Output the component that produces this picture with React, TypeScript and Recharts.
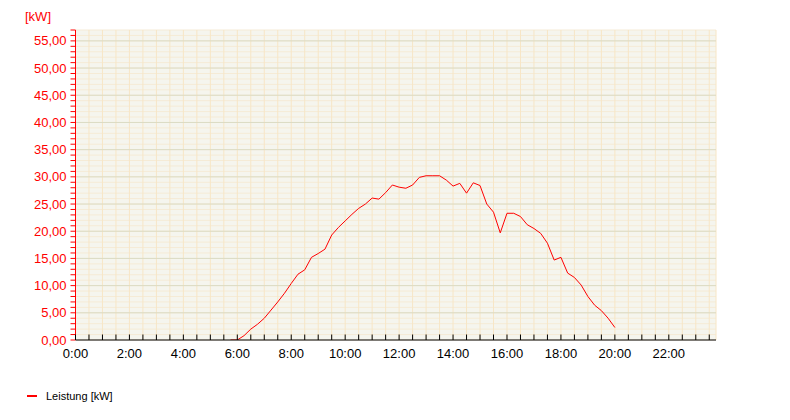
import React from 'react';
import {
    LineChart,
    Line,
    XAxis,
    YAxis,
    CartesianGrid,
    ReferenceLine
} from 'recharts';

// Messzeitpunkte (Viertelstunden) und Leistung in kW
const zeitpunkte = [
    '5:45', '6:00', '6:15', '6:30', '6:45', '7:00', '7:15', '7:30', '7:45',
    '8:00', '8:15', '8:30', '8:45', '9:00', '9:15', '9:30', '9:45',
    '10:00', '10:15', '10:30', '10:45', '11:00', '11:15', '11:30', '11:45',
    '12:00', '12:15', '12:30', '12:45', '13:00', '13:15', '13:30', '13:45',
    '14:00', '14:15', '14:30', '14:45', '15:00', '15:15', '15:30', '15:45',
    '16:00', '16:15', '16:30', '16:45', '17:00', '17:15', '17:30', '17:45',
    '18:00', '18:15', '18:30', '18:45', '19:00', '19:15', '19:30', '19:45',
    '20:00'
];

const leistung = [
    0, 0, 0.8, 2.0, 2.9, 4.0, 5.5, 7.0, 8.6,
    10.4, 12.1, 12.9, 15.2, 15.9, 16.7, 19.3, 20.7,
    21.9, 23.1, 24.2, 25.0, 26.1, 25.9, 27.1, 28.5,
    28.1, 27.9, 28.5, 29.9, 30.2, 30.2, 30.2, 29.4,
    28.3, 28.8, 27.0, 28.9, 28.4, 25.0, 23.5, 19.7,
    23.3, 23.3, 22.7, 21.2, 20.5, 19.6, 17.8, 14.7,
    15.2, 12.3, 11.5, 10.1, 8.0, 6.4, 5.4, 4.0,
    2.3
];

// Achsen: Minuten seit Mitternacht (Ticks alle 30 min), kW (Ticks je 1 kW)
const xTicks = Array.from({ length: 48 }, (_, i) => i * 30);
const yTicks = Array.from({ length: 58 }, (_, i) => i);
const yMajor = [5, 10, 15, 20, 25, 30, 35, 40, 45, 50, 55];

const toMin = (t: string) => {
    const [h, m] = t.split(':').map(Number);
    return h * 60 + m;
};

const data = zeitpunkte.map((t, i) => ({ min: toMin(t), kw: leistung[i] }));

const FONT = '"Liberation Sans", Arial, Helvetica, sans-serif';

const fmtKw = (v: number) => (v % 5 === 0 ? v.toFixed(2).replace('.', ',') : '');

function XTick({ x, y, payload }: any) {
    const v = payload.value;
    return (
        <g>
            <line x1={x} x2={x} y1={y - 5.5} y2={y} stroke="#000" />
            {v % 120 === 0 && (
                <text x={x} y={y + 17.5} textAnchor="middle" fill="#000" fontSize={13} fontFamily={FONT}>
                    {`${v / 60}:00`}
                </text>
            )}
        </g>
    );
}

export default function App() {
    return (
        <div style={{ position: 'relative', width: 790, height: 420, margin: -8, background: '#fff', fontFamily: FONT }}>
            <div style={{ position: 'absolute', left: 25, top: 10, color: '#ff0000', fontSize: 13, lineHeight: 1 }}>[kW]</div>
            <LineChart width={790} height={420} data={data} margin={{ top: 30, right: 74, bottom: 79, left: 0.5 }}>
                <CartesianGrid fill="#f5f5ee" vertical={false} stroke="#f5ebd6" />
                <CartesianGrid horizontal={false} stroke="#f7e6c6" />
                {yMajor.map(v => (
                    <ReferenceLine key={v} y={v} stroke="#dbdbc4" strokeWidth={1} />
                ))}
                <XAxis
                    dataKey="min"
                    type="number"
                    domain={[0, 1425]}
                    ticks={xTicks}
                    interval={0}
                    height={1}
                    tickLine={false}
                    tickSize={0}
                    tickMargin={0}
                    axisLine={{ stroke: '#000' }}
                    tick={<XTick />}
                    allowDataOverflow
                />
                <YAxis
                    type="number"
                    domain={[0, 57]}
                    ticks={yTicks}
                    interval={0}
                    width={75}
                    tickSize={5}
                    tickMargin={4}
                    tickFormatter={fmtKw}
                    axisLine={{ stroke: '#ff0000' }}
                    tickLine={{ stroke: '#ff0000' }}
                    tick={{ fill: '#ff0000', fontSize: 13, fontFamily: FONT }}
                    allowDataOverflow
                />
                <Line
                    type="linear"
                    dataKey="kw"
                    stroke="#ff0000"
                    strokeWidth={1}
                    dot={false}
                    activeDot={false}
                    isAnimationActive={false}
                />
            </LineChart>
            <div style={{ position: 'absolute', left: 27, top: 395, width: 10, height: 2, background: '#ff0000' }} />
            <div style={{ position: 'absolute', left: 46, top: 391, fontSize: 11, lineHeight: 1, color: '#000' }}>Leistung [kW]</div>
        </div>
    );
}
